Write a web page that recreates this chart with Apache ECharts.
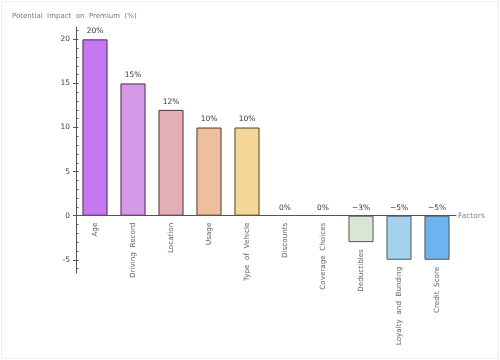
<!DOCTYPE html>
<html>
<head>
<meta charset="utf-8">
<script src="https://cdn.jsdelivr.net/npm/echarts@6/dist/echarts.min.js"></script>
<style>html,body{margin:0;padding:0;background:#fff}#c{width:500px;height:360px}</style>
</head>
<body>
<div id="c"></div>
<script>
const categories = ['Age', 'Driving  Record', 'Location', 'Usage', 'Type  of  Vehicle', 'Discounts', 'Coverage  Choices', 'Deductibles', 'Loyalty  and  Bunding', 'Credit  Score'];
const values = [20, 15, 12, 10, 10, 0, 0, -3, -5, -5];
const fillColors = ['#c47aee', '#d499e6', '#e4aeb8', '#eebf9f', '#f4d797', '#cccccc', '#cccccc', '#d7e7d1', '#a3d2ef', '#6cb3ef'];
const borderColors = ['#4a2a5a', '#4a2a5a', '#4a3333', '#4a3a33', '#4a4433', '#555555', '#555555', '#555555', '#555555', '#555555'];
const majorTicks = [-5, 0, 5, 10, 15, 20];
const minorTicks = [-6, -5, -4, -3, -2, -1, 0, 1, 2, 3, 4, 5, 6, 7, 8, 9, 10, 11, 12, 13, 14, 15, 16, 17, 18, 19, 20, 21];

const font = 'DejaVu Sans';
const chart = echarts.init(document.getElementById('c'), null, {renderer: 'canvas'});
chart.setOption({
  animation: false,
  title: {
    text: 'Potential  Impact  on  Premium  (%)',
    left: 12, top: 13, padding: 0,
    textStyle: {fontFamily: font, fontSize: 7, fontWeight: 'normal', color: '#777'}
  },
  graphic: [{
    type: 'rect', shape: {x: 1.5, y: 1.5, width: 497, height: 357},
    style: {fill: 'none', stroke: '#eeeeee', lineWidth: 1}, silent: true
  }],
  grid: {left: 76, right: 44, top: 27, bottom: 87, containLabel: false, outerBoundsMode: 'none'},
  xAxis: {
    type: 'category',
    z: 5,
    data: categories,
    name: 'Factors',
    nameLocation: 'end',
    nameGap: 2,
    nameTextStyle: {fontFamily: font, fontSize: 7.5, color: '#888'},
    axisLine: {onZero: true, lineStyle: {color: '#555', width: 1}},
    axisTick: {show: false},
    axisLabel: {show: false}
  },
  yAxis: [{
    type: 'value',
    min: -6.5, max: 21.4,
    splitLine: {show: false},
    axisLine: {show: true, lineStyle: {color: '#555', width: 1}},
    axisTick: {show: true, length: 3, customValues: majorTicks, lineStyle: {color: '#555'}},
    axisLabel: {customValues: majorTicks, margin: 6, fontFamily: font, fontSize: 7.5, color: '#444'}
  }, {
    type: 'value',
    min: -6.5, max: 21.4,
    position: 'left',
    splitLine: {show: false},
    axisLine: {show: false},
    axisTick: {show: true, inside: true, length: 2.5, customValues: minorTicks, lineStyle: {color: '#555'}},
    axisLabel: {show: false}
  }],
  series: [{
    type: 'bar',
    yAxisIndex: 0,
    barWidth: '66%',
    data: values.map((v, i) => ({
      value: v,
      itemStyle: {color: fillColors[i], borderColor: borderColors[i], borderWidth: v === 0 ? 0 : 1, borderRadius: 0}
    })),
    label: {
      show: true, position: 'top', distance: 4,
      fontFamily: font, fontSize: 7.5, color: '#333',
      formatter: p => (p.value < 0 ? '\u2212' + Math.abs(p.value) : p.value) + '%'
    }
  }, {
    type: 'scatter',
    yAxisIndex: 0,
    z: 6,
    symbolSize: 0,
    silent: true,
    data: values.map((v, i) => [i, Math.min(0, v)]),
    label: {
      show: true,
      position: 'bottom',
      distance: 7,
      rotate: 90,
      align: 'right',
      verticalAlign: 'middle',
      fontFamily: font, fontSize: 7.2, color: '#3a3a3a',
      formatter: p => categories[p.dataIndex]
    }
  }]
});
</script>
</body>
</html>
